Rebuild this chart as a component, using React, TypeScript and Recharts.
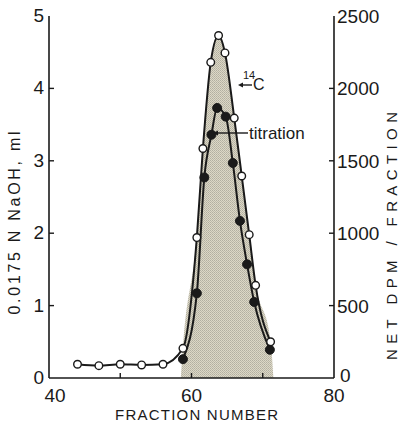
import React from 'react';
import { ComposedChart, Line, Area, XAxis, YAxis } from 'recharts';

// 14C (NET DPM / FRACTION, right axis)
const c14Fraction = [44, 47, 50, 53, 56, 58.8, 60.75, 61.6, 62.7, 63.8, 64.7, 66.0, 67.05, 68.1, 69.0, 71.1];
const c14Dpm = [95, 85, 95, 90, 95, 205, 970, 1585, 2180, 2365, 2245, 1795, 1395, 990, 640, 250];

// titration (0.0175 N NaOH, ml, left axis)
const titFraction = [58.8, 60.75, 61.8, 62.8, 63.6, 64.8, 65.8, 66.8, 67.8, 68.8, 71.0];
const titMl = [0.26, 1.17, 2.77, 3.36, 3.73, 3.61, 2.97, 2.17, 1.57, 1.05, 0.39];

// shaded peak region (DPM envelope)
const shadeFraction = [58.5, 58.8, 60.75, 61.6, 62.7, 63.8, 64.7, 66.0, 67.05, 68.1, 69.0, 71.1, 71.5];
const shadeDpm = [0, 215, 990, 1600, 2200, 2380, 2260, 1810, 1410, 1005, 655, 260, 0];

const xTicks = [40, 50, 60, 70, 80];
const xLabels = [40, 60, 80];
const leftTicks = [0, 1, 2, 3, 4, 5];
const rightTicks = [0, 500, 1000, 1500, 2000, 2500];

const c14Data = c14Fraction.map((x, i) => ({ x, y: c14Dpm[i] }));
const titData = titFraction.map((x, i) => ({ x, y: titMl[i] }));
const shadeData = shadeFraction.map((x, i) => ({ x, y: shadeDpm[i] }));

const FONT = '"Liberation Sans", Arial, sans-serif';
const INK = '#1a1a1a';

const XTick = (props: any) => {
  const { x, y, payload } = props;
  const v = payload.value;
  const showLabel = xLabels.includes(v);
  const mark = v > 40 && v < 80;
  return (
    <g>
      {mark && <line x1={x} x2={x} y1={y} y2={y - 5} stroke={INK} strokeWidth={1.4} />}
      {showLabel && (
        <text x={x + (v === 40 ? 6 : 0)} y={y + 24} textAnchor="middle" fontSize={19} fontFamily={FONT} fill={INK}>
          {v}
        </text>
      )}
    </g>
  );
};

const LeftTick = (props: any) => {
  const { x, y, payload } = props;
  const v = payload.value;
  return (
    <g>
      {v > 0 && v < 5 && <line x1={x} x2={x + 5} y1={y} y2={y} stroke={INK} strokeWidth={1.4} />}
      <text x={x - 5} y={y + 6} textAnchor="end" fontSize={19} fontFamily={FONT} fill={INK}>
        {v}
      </text>
    </g>
  );
};

const RightTick = (props: any) => {
  const { x, y, payload } = props;
  const v = payload.value;
  return (
    <g>
      {v > 0 && v < 2500 && <line x1={x - 5} x2={x} y1={y} y2={y} stroke={INK} strokeWidth={1.4} />}
      <text x={x + (v === 0 ? 6 : 3)} y={y + (v === 0 ? 4 : 7)} textAnchor="start" fontSize={19} fontFamily={FONT} fill={INK}>
        {v}
      </text>
    </g>
  );
};

export default function App() {
  return (
    <div style={{ position: 'absolute', left: 0, top: 0, width: 400, height: 424, background: '#fff' }}>
      <svg width={0} height={0} style={{ position: 'absolute' }}>
        <defs>
          <pattern id="stipple" width={2} height={2} patternUnits="userSpaceOnUse">
            <rect x={0} y={0} width={2} height={2} fill="#dcd8c6" />
            <rect x={0} y={0} width={1} height={1} fill="#b2afa1" />
            <rect x={1} y={1} width={1} height={1} fill="#bdb9aa" />
          </pattern>
        </defs>
      </svg>
      <ComposedChart width={400} height={424} margin={{ top: 16, right: 6, bottom: 16, left: 0 }}>
        <XAxis
          dataKey="x"
          type="number"
          domain={[40, 80]}
          ticks={xTicks}
          allowDataOverflow
          height={30}
          tickSize={0}
          tickMargin={0}
          tick={<XTick />}
          axisLine={{ stroke: INK, strokeWidth: 1.6 }}
          tickLine={false}
        />
        <XAxis
          xAxisId="top"
          orientation="top"
          type="number"
          domain={[40, 80]}
          height={0}
          tick={false}
          tickLine={false}
          axisLine={{ stroke: INK, strokeWidth: 1.6 }}
        />
        <YAxis
          yAxisId="left"
          type="number"
          domain={[0, 5]}
          ticks={leftTicks}
          width={49}
          tickSize={0}
          tickMargin={0}
          tick={<LeftTick />}
          tickLine={false}
          axisLine={{ stroke: INK, strokeWidth: 1.6 }}
        />
        <YAxis
          yAxisId="right"
          orientation="right"
          type="number"
          domain={[0, 2500]}
          ticks={rightTicks}
          width={60}
          tickSize={0}
          tickMargin={0}
          tick={<RightTick />}
          tickLine={false}
          axisLine={{ stroke: INK, strokeWidth: 1.6 }}
        />
        <Area
          yAxisId="right"
          data={shadeData}
          dataKey="y"
          type="monotone"
          fill="url(#stipple)"
          fillOpacity={1}
          stroke="none"
          isAnimationActive={false}
          dot={false}
          activeDot={false}
        />
        <Line
          yAxisId="right"
          data={c14Data}
          dataKey="y"
          type="monotone"
          stroke={INK}
          strokeWidth={2}
          dot={{ r: 3.8, fill: '#fff', stroke: INK, strokeWidth: 1.4 }}
          activeDot={false}
          isAnimationActive={false}
        />
        <Line
          yAxisId="left"
          data={titData}
          dataKey="y"
          type="monotone"
          stroke={INK}
          strokeWidth={2}
          dot={{ r: 4.5, fill: INK, stroke: INK, strokeWidth: 1 }}
          activeDot={false}
          isAnimationActive={false}
        />
      </ComposedChart>
      <svg width={400} height={424} style={{ position: 'absolute', left: 0, top: 0, pointerEvents: 'none' }}>
        <text
          x={20}
          y={223}
          transform="rotate(-90 20 223)"
          textAnchor="middle"
          fontSize={16}
          fontFamily={FONT}
          fill={INK}
          textLength={183}
          lengthAdjust="spacing"
        >
          0.0175 N NaOH, ml
        </text>
        <text
          x={397}
          y={236}
          transform="rotate(-90 397 236)"
          textAnchor="middle"
          fontSize={15}
          fontFamily={FONT}
          fill={INK}
          textLength={248}
          lengthAdjust="spacing"
        >
          NET DPM / FRACTION
        </text>
        <text
          x={196.5}
          y={420}
          textAnchor="middle"
          fontSize={15}
          fontFamily={FONT}
          fill={INK}
          textLength={163}
          lengthAdjust="spacing"
        >
          FRACTION NUMBER
        </text>
        <text x={243} y={79} fontSize={11} fontFamily={FONT} fill={INK}>14</text>
        <text x={253} y={90} fontSize={16} fontFamily={FONT} fill={INK}>C</text>
        <line x1={242} x2={252} y1={85} y2={85} stroke={INK} strokeWidth={1.4} />
        <polygon points="238,85 243,82.5 243,87.5" fill={INK} />
        <text x={249} y={139} fontSize={17} fontFamily={FONT} fill={INK}>titration</text>
        <line x1={217} x2={248} y1={133} y2={133} stroke={INK} strokeWidth={1.4} />
        <polygon points="213,133 218,130.5 218,135.5" fill={INK} />
      </svg>
    </div>
  );
}
